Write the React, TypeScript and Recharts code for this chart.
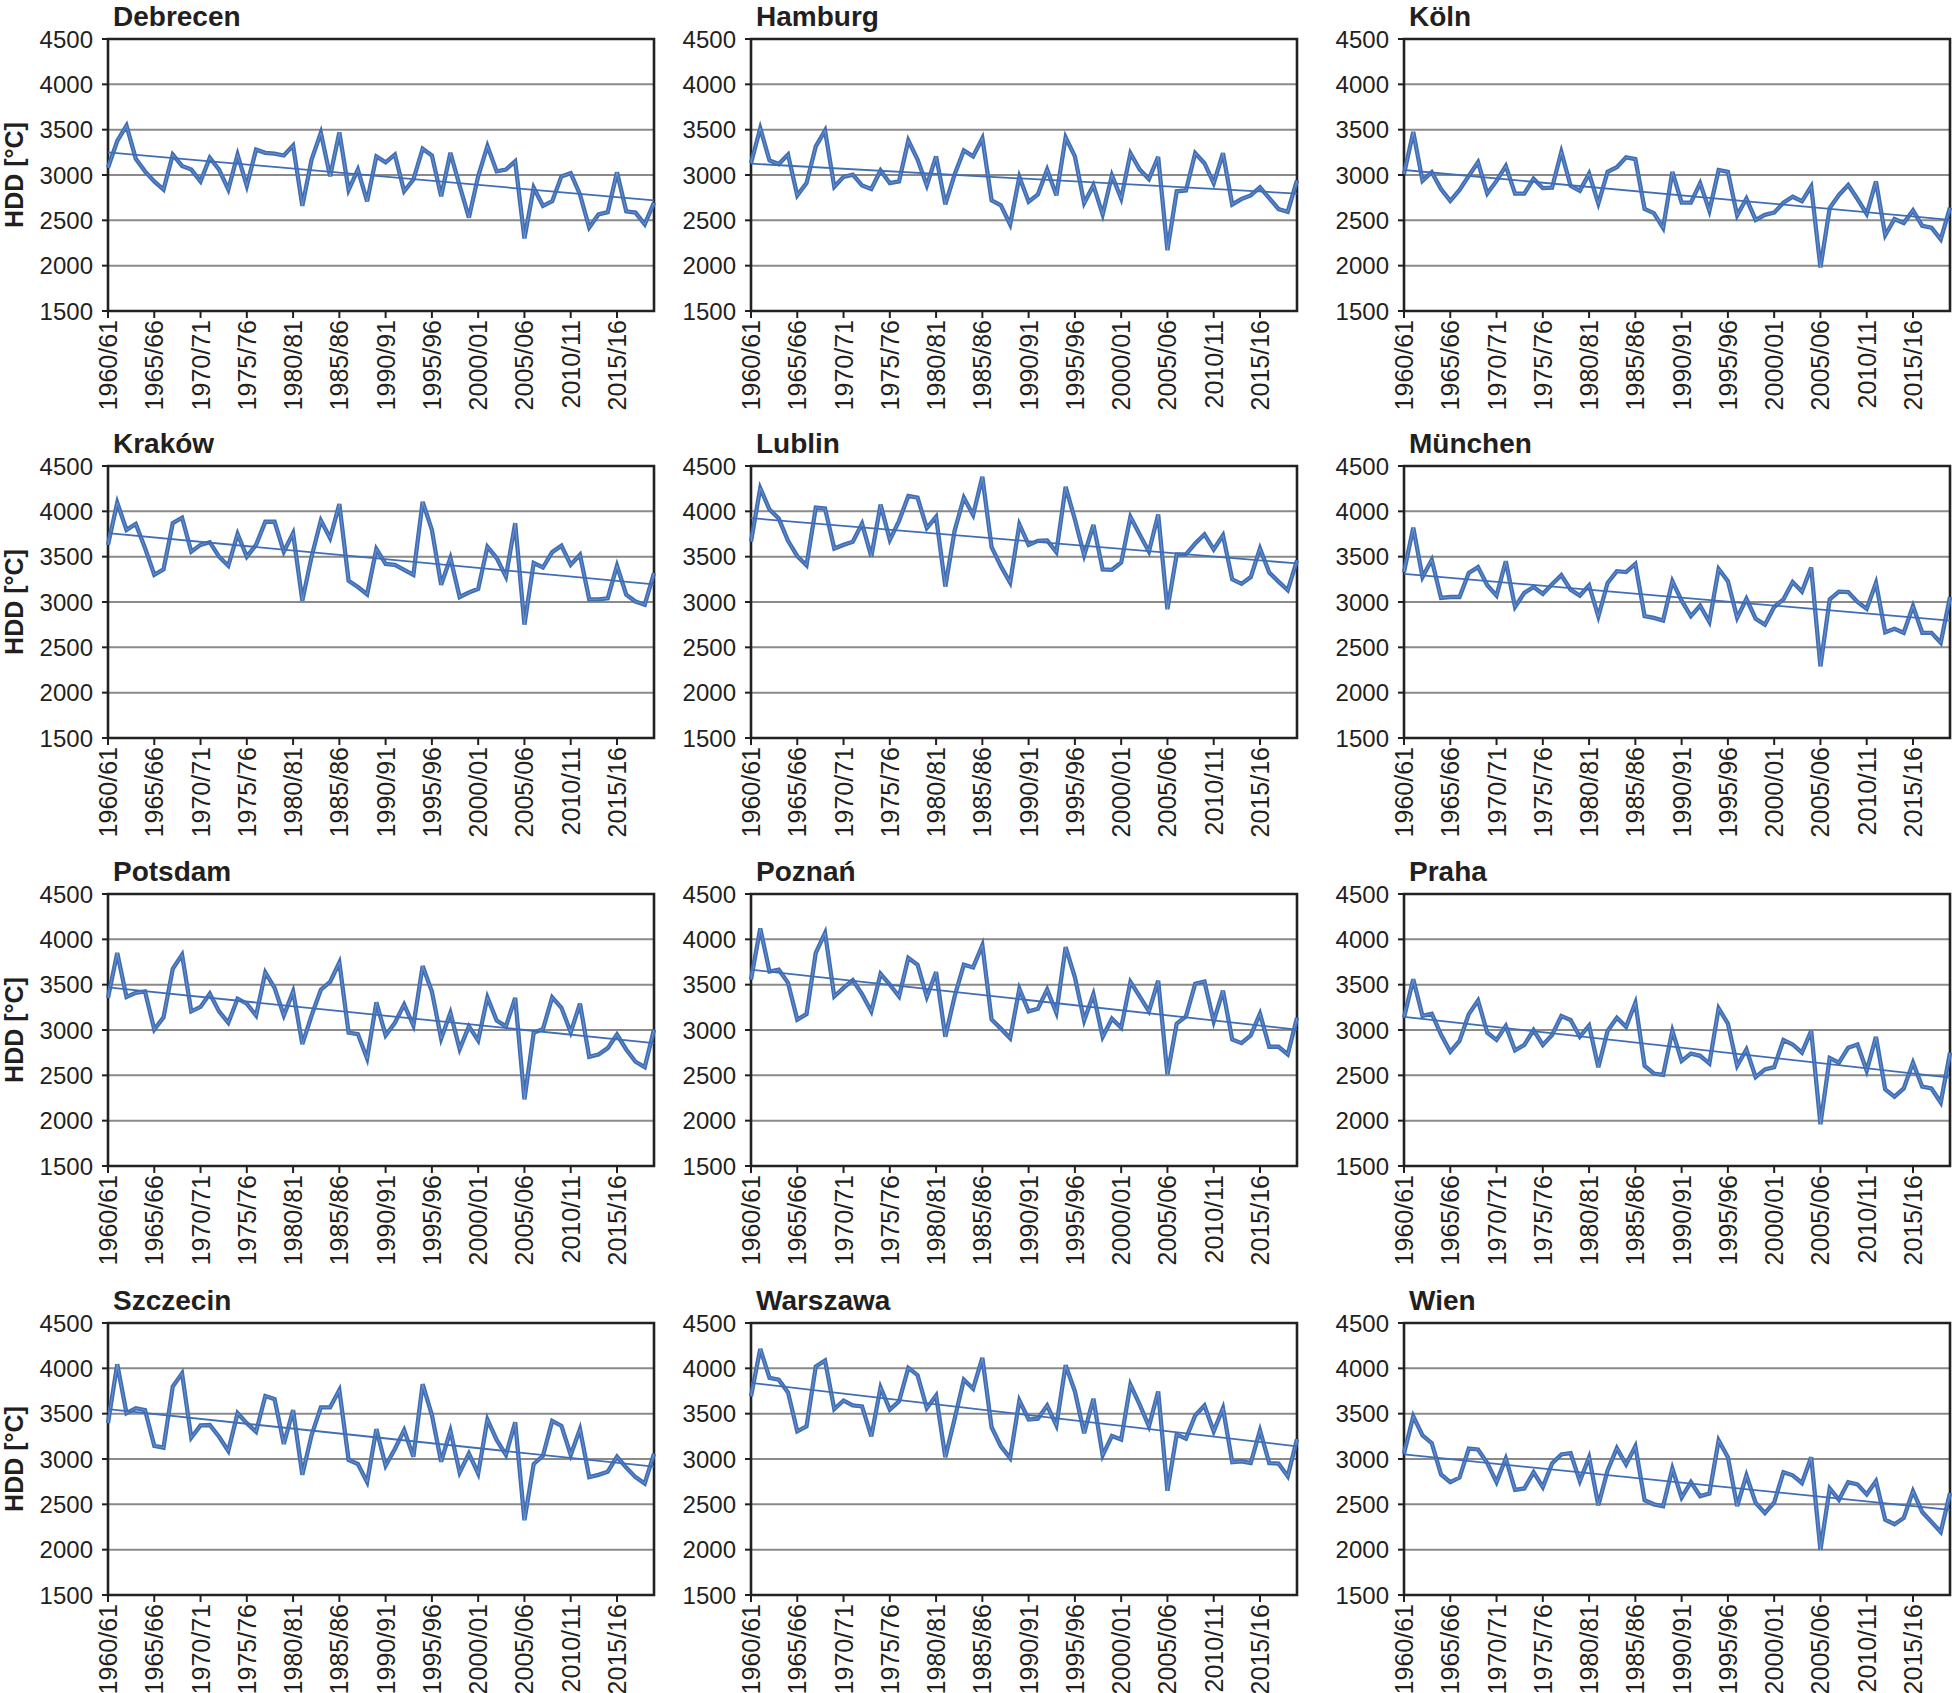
import React from 'react';
import { LineChart, Line, XAxis, YAxis, CartesianGrid, ReferenceLine, ReferenceArea } from 'recharts';

const FONT = "'Liberation Sans', Arial, Helvetica, sans-serif";
const BLUE = '#3f6eb6';
const TEXT = '#231f20';

// Heating seasons 1960/61 ... 2019/20 (category labels)
const seasons: string[] = [];
for (let y = 1960; y < 2020; y++) seasons.push(`${y}/${String((y + 1) % 100).padStart(2, '0')}`);

const tickLabels = ['1960/61', '1965/66', '1970/71', '1975/76', '1980/81', '1985/86', '1990/91', '1995/96', '2000/01', '2005/06', '2010/11', '2015/16'];
const yTicks = [1500, 2000, 2500, 3000, 3500, 4000, 4500];

const cityNames = ['Debrecen', 'Hamburg', 'Köln', 'Kraków', 'Lublin', 'München', 'Potsdam', 'Poznań', 'Praha', 'Szczecin', 'Warszawa', 'Wien'];

const debrecen = [3080,3375,3545,3180,3040,2930,2840,3225,3100,3060,2930,3190,3060,2840,3225,2880,3280,3245,3235,3215,3325,2660,3170,3465,2985,3470,2835,3060,2710,3205,3140,3225,2820,2950,3290,3215,2765,3245,2880,2530,2985,3320,3040,3060,3150,2300,2860,2660,2710,2985,3020,2785,2420,2565,2590,3030,2600,2585,2455,2695];
const hamburg = [3130,3515,3160,3120,3225,2775,2910,3315,3490,2870,2980,3005,2885,2845,3050,2910,2930,3380,3170,2885,3205,2675,3005,3270,3205,3405,2720,2665,2455,2980,2705,2785,3060,2775,3415,3205,2690,2885,2565,2995,2740,3240,3060,2955,3200,2170,2820,2830,3240,3130,2910,3240,2675,2735,2775,2865,2745,2625,2595,2940];
const koln = [3010,3475,2935,3030,2845,2715,2835,2990,3140,2795,2935,3100,2795,2795,2960,2855,2860,3255,2880,2825,3015,2685,3035,3085,3195,3175,2625,2580,2415,3035,2695,2695,2910,2605,3055,3035,2555,2740,2505,2560,2585,2695,2760,2710,2875,1980,2635,2780,2890,2735,2570,2930,2335,2515,2470,2610,2440,2420,2290,2640];
const krakow = [3630,4095,3795,3860,3595,3300,3360,3870,3930,3555,3630,3660,3500,3400,3750,3500,3630,3885,3885,3555,3760,3015,3500,3900,3705,4080,3235,3165,3085,3585,3420,3410,3355,3300,4105,3795,3190,3485,3055,3105,3145,3610,3485,3280,3870,2750,3430,3380,3550,3620,3410,3520,3030,3030,3040,3400,3080,3005,2970,3320];
const lublin = [3665,4255,4020,3920,3675,3505,3405,4040,4030,3590,3630,3665,3865,3500,4075,3685,3895,4170,4150,3815,3940,3170,3785,4150,3960,4380,3605,3395,3215,3855,3630,3675,3680,3550,4270,3910,3515,3850,3360,3355,3435,3940,3745,3555,3965,2920,3525,3525,3645,3745,3580,3735,3250,3200,3275,3590,3325,3225,3130,3460];
const munchen = [3330,3820,3275,3465,3045,3055,3055,3320,3385,3185,3070,3450,2945,3100,3165,3090,3195,3295,3135,3070,3185,2840,3210,3340,3330,3420,2845,2825,2795,3230,3015,2845,2960,2780,3365,3230,2825,3035,2815,2750,2945,3030,3220,3115,3380,2290,3030,3115,3110,3000,2925,3210,2665,2705,2660,2955,2660,2660,2550,3055];
const potsdam = [3355,3850,3365,3410,3425,3005,3140,3675,3830,3205,3255,3400,3205,3080,3345,3290,3160,3635,3465,3160,3425,2845,3160,3445,3530,3745,2970,2955,2685,3305,2940,3080,3280,3050,3705,3425,2905,3190,2790,3040,2885,3360,3105,3040,3355,2235,2970,3010,3360,3245,2975,3290,2705,2730,2800,2950,2785,2650,2590,3005];
const poznan = [3555,4120,3645,3665,3520,3115,3175,3850,4070,3370,3465,3550,3395,3205,3620,3500,3370,3795,3720,3365,3640,2925,3370,3720,3690,3935,3115,3015,2910,3455,3205,3235,3445,3190,3915,3580,3105,3395,2925,3125,3025,3530,3370,3205,3545,2510,3070,3150,3510,3535,3095,3435,2895,2855,2940,3180,2815,2815,2730,3135];
const praha = [3135,3560,3155,3180,2950,2760,2880,3175,3325,2970,2890,3045,2775,2835,3000,2835,2945,3155,3110,2925,3050,2590,2990,3135,3035,3300,2605,2520,2505,2990,2660,2740,2715,2630,3240,3070,2605,2785,2480,2565,2590,2890,2840,2750,2990,1960,2690,2640,2805,2840,2550,2925,2345,2265,2355,2640,2375,2355,2200,2750];
const szczecin = [3395,4045,3505,3560,3540,3145,3125,3800,3945,3235,3370,3375,3245,3090,3505,3395,3300,3695,3660,3165,3540,2825,3265,3570,3570,3760,2990,2945,2745,3330,2925,3110,3320,3025,3825,3485,2970,3310,2850,3060,2840,3435,3210,3045,3405,2325,2945,3035,3420,3365,3045,3330,2800,2825,2860,3025,2905,2800,2730,3060];
const warszawa = [3690,4215,3895,3875,3735,3305,3360,4020,4085,3550,3645,3590,3580,3250,3790,3545,3635,4005,3925,3560,3700,3020,3440,3875,3775,4115,3350,3140,3010,3645,3435,3445,3590,3370,4035,3745,3285,3665,3040,3255,3215,3820,3600,3360,3745,2650,3270,3225,3480,3590,3305,3560,2965,2975,2955,3315,2955,2950,2810,3220];
const wien = [3060,3470,3260,3175,2830,2745,2795,3115,3105,2955,2745,3005,2660,2675,2855,2690,2950,3050,3065,2755,3020,2490,2875,3120,2940,3140,2545,2500,2480,2895,2575,2745,2590,2620,3205,3020,2480,2820,2515,2405,2520,2855,2820,2735,3020,2000,2675,2550,2745,2720,2610,2755,2330,2280,2350,2645,2415,2305,2195,2625];

const seriesValues = [debrecen, hamburg, koln, krakow, lublin, munchen, potsdam, poznan, praha, szczecin, warszawa, wien];

// Linear trend line end points (first and last season)
const trendStart = [3250, 3125, 3055, 3760, 3925, 3310, 3470, 3665, 3145, 3550, 3840, 3050];
const trendEnd = [2720, 2795, 2505, 3195, 3425, 2795, 2855, 3005, 2475, 2915, 3140, 2440];

// layout
const PLOT_LEFT = [108, 751, 1404];
const PLOT_TOP = [39, 466, 894, 1323];
const PLOT_W = 546;
const PLOT_H = 272;
const M_TOP = 40;
const M_LEFT = 20;
const Y_W = 80;
const X_H = 110;
const CHART_W = M_LEFT + Y_W + PLOT_W + 2;
const CHART_H = M_TOP + PLOT_H + X_H;

const XTick = (props: any) => {
  const { x, y, payload } = props;
  return (
    <g transform={`translate(${x},${y})`}>
      <text transform="rotate(-90)" x={0} y={0} dy="0.36em" textAnchor="end" fontSize={25} fill={TEXT} fontFamily={FONT}>
        {payload.value}
      </text>
    </g>
  );
};

const Panel = ({ index }: { index: number }) => {
  const col = index % 3;
  const row = Math.floor(index / 3);
  const values = seriesValues[index];
  const data = seasons.map((s, i) => ({ season: s, hdd: values[i] }));
  return (
    <div style={{ position: 'absolute', left: PLOT_LEFT[col] - M_LEFT - Y_W, top: PLOT_TOP[row] - M_TOP, width: CHART_W, height: CHART_H }}>
      <LineChart width={CHART_W} height={CHART_H} data={data} margin={{ top: M_TOP, right: 2, left: M_LEFT, bottom: 0 }}>
        <CartesianGrid vertical={false} stroke="#8a8a8a" strokeWidth={2} />
        <XAxis
          dataKey="season"
          ticks={tickLabels}
          interval={0}
          height={X_H}
          axisLine={false}
          tickLine={{ stroke: TEXT, strokeWidth: 2 }}
          tickSize={7}
          tickMargin={2}
          tick={<XTick />}
        />
        <YAxis
          type="number"
          domain={[1500, 4500]}
          ticks={yTicks}
          interval={0}
          width={Y_W}
          axisLine={false}
          tickLine={{ stroke: TEXT, strokeWidth: 2 }}
          tickSize={6}
          tickMargin={9}
          tick={{ fontSize: 24, fill: TEXT, fontFamily: FONT }}
        />
        <Line type="linear" dataKey="hdd" stroke={BLUE} strokeWidth={4.3} dot={false} isAnimationActive={false} />
        <Line type="linear" dataKey="hdd" stroke="#ffffff" strokeOpacity={0.3} strokeWidth={0.8} dot={false} isAnimationActive={false} />
        <ReferenceLine
          segment={[{ x: seasons[0], y: trendStart[index] }, { x: seasons[seasons.length - 1], y: trendEnd[index] }]}
          stroke={BLUE}
          strokeWidth={1.8}
          ifOverflow="visible"
        />
        <ReferenceArea
          x1={seasons[0]}
          x2={seasons[seasons.length - 1]}
          y1={1500}
          y2={4500}
          fill="none"
          fillOpacity={0}
          stroke="#222222"
          strokeWidth={2.6}
          ifOverflow="visible"
        />
      </LineChart>
    </div>
  );
};

export default function App() {
  return (
    <div style={{ position: 'absolute', left: 0, top: 0, width: 1952, height: 1693, background: '#ffffff', fontFamily: FONT, overflow: 'hidden' }}>
      {cityNames.map((_, i) => (
        <Panel key={i} index={i} />
      ))}
      <svg width={1952} height={1693} style={{ position: 'absolute', left: 0, top: 0, pointerEvents: 'none' }}>
        {cityNames.map((name, i) => {
          const col = i % 3;
          const row = Math.floor(i / 3);
          return (
            <text key={name} x={PLOT_LEFT[col] + 5} y={PLOT_TOP[row] - 13} fontSize={28} fontWeight="bold" fill={TEXT} fontFamily={FONT}>
              {name}
            </text>
          );
        })}
        {PLOT_TOP.map((t, r) => (
          <text
            key={r}
            transform={`translate(14,${t + PLOT_H / 2}) rotate(-90)`}
            textAnchor="middle"
            dominantBaseline="central"
            fontSize={25}
            fontWeight="bold"
            fill={TEXT}
            fontFamily={FONT}
          >
            HDD [°C]
          </text>
        ))}
      </svg>
    </div>
  );
}
